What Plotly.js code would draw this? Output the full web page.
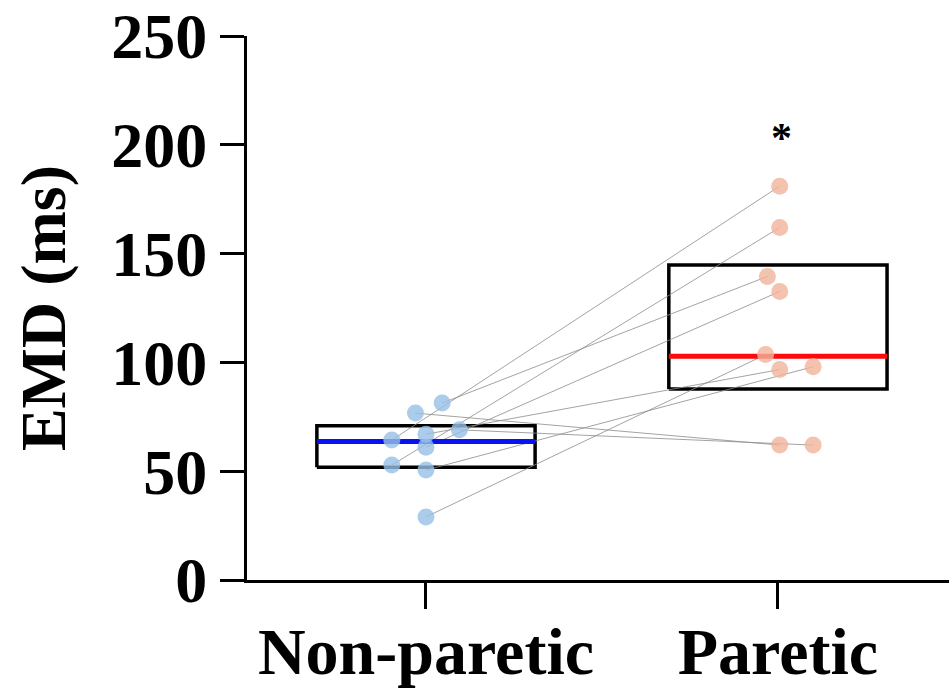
<!DOCTYPE html>
<html>
<head>
<meta charset="utf-8">
<script src="https://cdn.plot.ly/plotly-3.0.1.min.js"></script>
<style>html,body{margin:0;padding:0;background:#fff;}#chart{width:949px;height:694px;}</style>
</head>
<body>
<div id="chart"></div>
<script>
// Categories and tick labels
const categories = ["Non-paretic", "Paretic"];
const categoryPos = [0, 1];

// Paired subject values (ms), same subject at the same index
const nonParetic = [81.3, 76.7, 64.3, 61, 67, 52.8, 50.5, 29, 69];
const paretic    = [139.5, 62, 181, 132.6, 96.7, 162, 98, 103.6, 62];
// Horizontal jitter (category units) of each point as drawn
const jitterNP = [0.046, -0.03, -0.097, 0.0, 0.0, -0.097, 0.0, 0.0, 0.095];
const jitterP  = [-0.03, 0.005, 0.005, 0.005, 0.005, 0.005, 0.1, -0.035, 0.1];

// Box summary values: [Non-paretic, Paretic]
const q1 = [51.8, 87.8];
const q3 = [70.9, 144.8];
const median = [63.7, 102.8];
const boxHalfWidth = 0.31;

// Significance marker
const sigText = "*";
const sigY = 203;

const boxColors = ["#0a12f0", "#ff0a0a"];
const pointColors = ["rgba(150,192,230,0.8)", "rgba(240,180,155,0.8)"];

const traces = [];

// Boxes (rectangles)
categoryPos.forEach((c, i) => {
  traces.push({
    x: [c - boxHalfWidth, c + boxHalfWidth, c + boxHalfWidth, c - boxHalfWidth, c - boxHalfWidth],
    y: [q1[i], q1[i], q3[i], q3[i], q1[i]],
    mode: "lines", type: "scatter",
    line: {color: "#000", width: 3.5},
    hoverinfo: "skip", showlegend: false
  });
});

// Paired connecting lines
const lx = [], ly = [];
nonParetic.forEach((v, i) => {
  lx.push(categoryPos[0] + jitterNP[i], categoryPos[1] + jitterP[i], null);
  ly.push(v, paretic[i], null);
});
traces.push({
  x: lx, y: ly, mode: "lines", type: "scatter",
  line: {color: "rgba(140,140,140,0.8)", width: 1},
  hoverinfo: "skip", showlegend: false
});

// Median lines
categoryPos.forEach((c, i) => {
  traces.push({
    x: [c - boxHalfWidth, c + boxHalfWidth],
    y: [median[i], median[i]],
    mode: "lines", type: "scatter",
    line: {color: boxColors[i], width: 5},
    hoverinfo: "skip", showlegend: false
  });
});

// Points
traces.push({
  x: nonParetic.map((v, i) => categoryPos[0] + jitterNP[i]),
  y: nonParetic, mode: "markers", type: "scatter",
  marker: {size: 17, color: pointColors[0]},
  showlegend: false
});
traces.push({
  x: paretic.map((v, i) => categoryPos[1] + jitterP[i]),
  y: paretic, mode: "markers", type: "scatter",
  marker: {size: 17, color: pointColors[1]},
  showlegend: false
});

const serif = "Liberation Serif, Times New Roman, serif";

const layout = {
  width: 949, height: 694,
  margin: {l: 247, r: 0, t: 36, b: 114},
  paper_bgcolor: "#fff", plot_bgcolor: "#fff",
  xaxis: {
    range: [-0.5085, 1.486],
    tickvals: categoryPos, ticktext: categories,
    showgrid: false, zeroline: false,
    showline: true, linecolor: "#000", linewidth: 3,
    ticks: "outside", ticklen: 26, tickwidth: 3, tickcolor: "#000",
    ticklabelstandoff: -14,
    tickfont: {family: serif, size: 66, color: "#000", weight: "bold"}
  },
  yaxis: {
    range: [0, 250],
    tickvals: [0, 50, 100, 150, 200, 250],
    showgrid: false, zeroline: false,
    showline: true, linecolor: "#000", linewidth: 3,
    ticks: "outside", ticklen: 24, tickwidth: 3, tickcolor: "#000",
    tickfont: {family: serif, size: 64, color: "#000", weight: "bold"},
    title: {text: "EMD (ms)", standoff: 25, font: {family: serif, size: 64, color: "#000", weight: "bold"}}
  },
  annotations: [{
    x: categoryPos[1] + 0.01, y: sigY, xref: "x", yref: "y",
    text: sigText, showarrow: false,
    font: {family: serif, size: 42, color: "#000", weight: "bold"}
  }]
};

Plotly.newPlot("chart", traces, layout, {displayModeBar: false, staticPlot: true});
</script>
</body>
</html>
